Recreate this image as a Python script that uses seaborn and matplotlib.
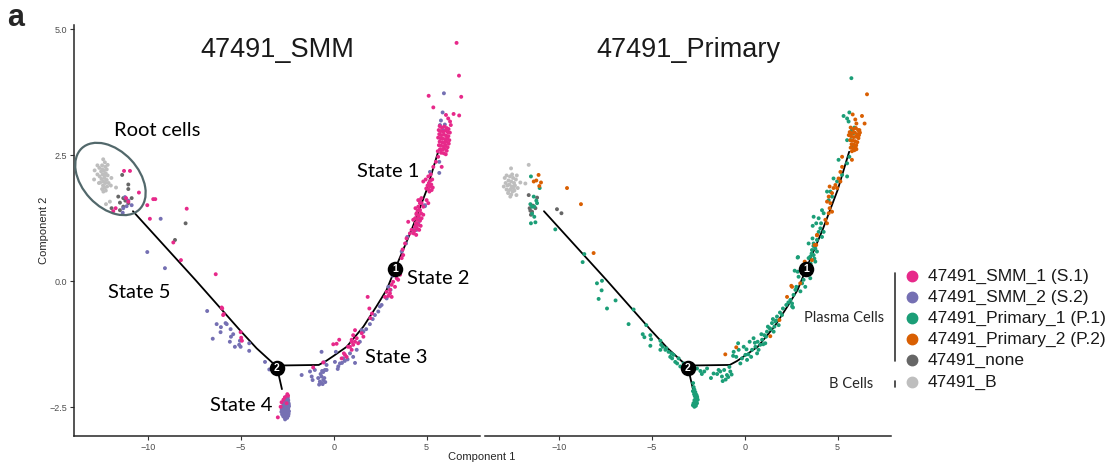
import matplotlib
matplotlib.use("Agg")
import matplotlib.pyplot as plt
import pandas as pd
import seaborn as sns
from matplotlib.lines import Line2D
from matplotlib.patches import Ellipse
from matplotlib.transforms import IdentityTransform

# ---------------------------------------------------------------- data
# trajectory backbone (minimum spanning tree in reduced space)
trunk_x = [-10.79, -7.44, -5.04, -4.14, -3.25, -3.05]
trunk_y = [1.39, 0.03, -0.97, -1.33, -1.63, -1.70]
main_x = [-3.05, -2.70, -0.80, -0.40, 0.00, 0.70, 1.60, 2.30, 2.85, 3.30, 4.19, 5.00, 5.62]
main_y = [-1.70, -1.67, -1.66, -1.58, -1.48, -1.30, -0.90, -0.50, -0.17, 0.24, 1.02, 1.81, 2.57]
stub_x = [-3.05, -2.78]
stub_y = [-1.70, -2.14]
node_x = [3.30, -3.05]
node_y = [0.24, -1.72]
node_labels = ["1", "2"]

# cells of the SMM sample
smm_b = [(-12.39, 2.42), (-12.30, 2.36), (-12.45, 2.30), (-12.60, 2.25), (-12.28, 2.27),
         (-12.20, 2.22), (-12.50, 2.18), (-12.35, 2.19), (-12.25, 2.14), (-12.42, 2.12),
         (-12.15, 2.10), (-12.58, 2.08), (-12.32, 2.05), (-12.48, 2.03), (-12.20, 2.01),
         (-12.38, 1.98), (-12.28, 1.95), (-12.55, 1.96), (-12.10, 1.95), (-12.40, 1.90),
         (-12.30, 1.86), (-12.45, 1.83), (-12.25, 1.80), (-12.38, 1.78), (-12.85, 2.20),
         (-12.88, 2.02), (-12.70, 2.12), (-11.95, 2.05), (-11.98, 1.90), (-11.70, 1.86),
         (-12.24, 1.53), (-12.03, 1.58), (-12.62, 1.95), (-12.15, 2.31), (-12.70, 2.30),
         (-12.33, 2.10), (-12.44, 2.22), (-12.18, 1.88)]
smm_none = [(-11.37, 2.11), (-11.04, 1.92), (-11.04, 1.83), (-11.58, 1.68), (-11.31, 1.65),
            (-10.86, 1.65), (-11.49, 1.56), (-11.31, 1.48), (-11.94, 1.45), (-11.49, 1.41),
            (-11.04, 1.55), (-11.20, 1.60), (-7.96, 1.15), (-8.53, 0.82)]
smm_s2 = [(-11.22, 1.67), (-11.04, 1.60), (-10.86, 1.51), (-11.31, 1.45), (-11.13, 1.49),
          (-11.34, 1.36), (-9.30, 1.24), (-10.02, 0.58), (-9.07, 0.26),
          (-6.80, -0.59), (-6.29, -0.85), (-6.06, -0.91), (-6.08, -1.01), (-5.81, -0.83),
          (-5.54, -0.95), (-6.50, -1.14), (-5.52, -1.10), (-5.58, -1.20), (-5.31, -1.30),
          (-5.04, -1.18), (-5.08, -1.26), (-5.00, -1.30), (-4.54, -1.23), (-4.54, -1.38),
          (-3.69, -1.60), (-3.46, -1.75), (-5.75, -0.85), (-5.40, -1.05),
          (-2.52, -2.28), (-2.46, -2.31), (-2.57, -2.33), (-2.50, -2.35), (-2.44, -2.36),
          (-2.65, -2.38), (-2.58, -2.40), (-2.51, -2.39), (-2.43, -2.41), (-2.71, -2.43),
          (-2.63, -2.45), (-2.56, -2.43), (-2.48, -2.46), (-2.41, -2.44), (-2.77, -2.49),
          (-2.69, -2.48), (-2.61, -2.50), (-2.54, -2.49), (-2.46, -2.51), (-2.40, -2.48),
          (-2.79, -2.54), (-2.72, -2.53), (-2.66, -2.55), (-2.58, -2.54), (-2.51, -2.56),
          (-2.44, -2.53), (-2.40, -2.58), (-2.81, -2.59), (-2.74, -2.58), (-2.67, -2.60),
          (-2.60, -2.59), (-2.53, -2.61), (-2.46, -2.60), (-2.42, -2.63), (-2.77, -2.64),
          (-2.70, -2.63), (-2.63, -2.65), (-2.56, -2.64), (-2.49, -2.66), (-2.44, -2.67),
          (-2.71, -2.68), (-2.64, -2.70), (-2.57, -2.69), (-2.50, -2.71), (-2.61, -2.74),
          (-1.72, -1.86), (-1.27, -1.79), (-1.18, -1.89), (-1.13, -1.96), (-1.01, -1.76),
          (-0.83, -1.92), (-0.74, -1.99), (-0.65, -1.89), (-0.56, -1.96), (-0.59, -2.04),
          (-0.66, -2.02), (-0.70, -1.84), (-0.62, -1.78), (-0.50, -1.92), (-0.45, -2.00),
          (-0.78, -2.05), (-0.65, -1.40), (-0.51, -1.61), (-0.38, -1.66), (-0.47, -1.76),
          (-0.56, -1.80), (-0.38, -1.76), (0.07, -1.60), (0.25, -1.69), (0.34, -1.63),
          (0.22, -1.74), (0.12, -1.40), (0.52, -1.53), (0.45, -1.62), (0.60, -1.58),
          (0.88, -1.43), (1.05, -1.50), (1.24, -1.36), (1.41, -1.20), (1.51, -0.97),
          (1.60, -1.00), (2.22, -0.67), (2.40, -0.60), (2.49, -0.50), (2.58, -0.47),
          (2.85, -0.34), (2.94, -0.11), (3.06, -0.17), (3.17, 0.11), (3.66, 0.59),
          (3.89, 0.75), (3.96, 0.88), (4.28, 1.02), (4.46, 1.02), (4.55, 1.15),
          (4.91, 1.51), (1.75, -0.95), (1.95, -0.85), (2.10, -0.75), (0.75, -1.55),
          (1.15, -1.62), (5.93, 3.73), (5.86, 3.35), (5.77, 3.19), (5.98, 3.11),
          (5.72, 3.10), (5.89, 3.00), (5.68, 2.37), (5.68, 2.15), (5.18, 2.17),
          (4.91, 1.49), (4.42, 1.08), (4.64, 1.22)]
smm_s1 = [(-11.27, 2.19), (-10.95, 2.19), (-10.47, 1.76), (-11.16, 1.65), (-11.04, 1.58),
          (-11.72, 1.45), (-11.85, 1.39), (-10.02, 1.51), (-9.70, 1.63), (-9.59, 1.63),
          (-7.90, 1.44), (-9.88, 1.24), (-8.62, 0.77), (-8.21, 0.42), (-6.34, 0.14),
          (-6.02, -0.52), (-5.94, -0.67), (-5.99, -0.54), (-5.91, -0.65), (-5.00, -1.01),
          (-4.93, -1.18), (-4.97, -1.12),
          (-2.49, -2.24), (-2.62, -2.30), (-2.80, -2.40), (-2.85, -2.49), (-2.53, -2.42),
          (-3.00, -2.70), (-2.45, -2.27), (-2.70, -2.35),
          (-1.10, -1.71), (-0.02, -1.25), (0.30, -1.16), (-0.56, -1.61), (0.61, -1.46),
          (0.88, -1.30), (0.97, -1.16), (1.05, -1.07), (1.15, -0.97),
          (0.16, -1.24), (0.55, -1.43), (0.43, -1.53), (0.70, -1.50), (0.78, -1.30),
          (0.97, -1.36), (1.05, -1.26), (0.97, -1.20), (1.15, -1.20), (1.24, -1.13),
          (1.32, -1.23), (1.51, -1.03), (1.60, -1.10), (1.92, -0.54), (1.83, -0.31),
          (1.97, -0.73), (2.06, -0.64), (2.76, -0.31), (2.85, -0.21), (2.94, -0.29),
          (3.03, -0.17), (3.12, -0.07), (3.20, -0.01), (3.30, -0.11), (3.39, 0.06),
          (3.47, 0.03), (3.57, 0.13), (3.12, -0.31), (3.03, -0.24), (3.42, 0.19),
          (3.66, 0.46), (3.74, 0.52), (4.01, 1.18), (4.19, 1.02), (4.28, 1.22),
          (4.46, 1.35), (4.55, 1.28), (4.64, 1.41), (4.55, 1.48), (4.73, 1.55),
          (4.64, 1.61), (4.82, 1.32), (4.73, 1.25), (4.55, 1.61), (4.46, 1.15),
          (4.10, 0.95), (3.92, 0.85), (3.84, 0.75), (3.71, 0.63),
          (4.40, 1.45), (4.52, 1.40), (4.62, 1.42), (4.45, 1.33), (4.58, 1.30),
          (4.70, 1.35), (4.38, 1.25), (4.50, 1.22), (4.64, 1.20), (4.42, 1.15),
          (4.55, 1.12), (4.68, 1.10), (4.48, 1.05), (4.35, 1.00), (4.60, 1.02),
          (4.37, 1.08), (4.30, 0.95), (4.44, 0.92),
          (5.09, 2.08), (4.82, 1.98), (4.95, 2.02), (5.18, 1.88), (5.27, 1.81),
          (5.12, 1.95), (5.22, 2.12), (5.30, 2.02), (5.05, 1.90), (5.15, 1.78),
          (5.25, 1.92), (4.98, 1.84), (5.33, 1.86), (5.20, 2.00), (5.10, 1.82),
          (5.00, 1.61), (5.09, 1.55), (4.64, 1.55), (4.82, 1.48), (4.72, 1.65),
          (5.70, 3.08), (5.82, 3.05), (5.95, 3.07), (6.08, 3.04), (6.18, 3.02),
          (5.65, 3.00), (5.76, 2.98), (5.90, 2.97), (6.02, 2.99), (6.14, 2.96),
          (6.25, 2.95), (5.68, 2.92), (5.80, 2.90), (5.93, 2.91), (6.05, 2.89),
          (6.17, 2.88), (5.62, 2.85), (5.74, 2.84), (5.86, 2.83), (5.99, 2.82),
          (6.11, 2.84), (6.22, 2.80), (5.70, 2.77), (5.83, 2.76), (5.95, 2.75),
          (6.07, 2.77), (6.19, 2.73), (5.66, 2.70), (5.78, 2.69), (5.90, 2.68),
          (6.02, 2.70), (6.13, 2.66), (5.72, 2.62), (5.85, 2.61), (5.97, 2.63),
          (6.08, 2.59), (5.78, 2.55), (5.92, 2.54), (6.03, 2.52), (5.62, 2.47),
          (5.50, 2.37), (5.81, 2.27), (5.36, 2.27), (6.30, 3.10), (5.60, 2.58),
          (6.61, 4.73), (6.74, 4.08), (6.86, 3.66), (5.11, 3.68), (5.36, 3.45),
          (6.75, 3.29), (6.45, 3.32), (6.04, 3.30), (6.16, 3.23), (6.26, 3.17)]

# cells of the Primary sample
pri_b = [(-12.56, 2.24), (-11.61, 2.31), (-12.06, 1.96), (-11.79, 1.94), (-12.60, 1.68),
         (-12.27, 1.71), (-12.90, 2.05), (-12.80, 2.10), (-12.70, 2.00), (-12.62, 2.08),
         (-12.55, 1.98), (-12.45, 2.05), (-12.40, 1.95), (-12.85, 1.95), (-12.75, 1.90),
         (-12.65, 1.92), (-12.52, 1.88), (-12.42, 1.85), (-12.35, 1.90), (-12.95, 1.88),
         (-12.80, 1.82), (-12.68, 1.80), (-12.58, 1.83), (-12.48, 1.78), (-12.38, 1.80),
         (-12.72, 1.75), (-12.55, 1.72), (-12.30, 2.02), (-12.25, 2.10), (-12.50, 2.12),
         (-12.20, 1.85)]
pri_none = [(-11.61, 1.71), (-11.16, 1.66), (-11.56, 1.45), (-11.43, 1.38), (-11.25, 1.45),
            (-11.49, 1.32), (-10.09, 1.43), (-9.85, 1.35), (-11.52, 1.40), (-11.38, 1.50)]
pri_p1 = [(-11.49, 2.08), (-11.02, 1.85), (-11.34, 1.68), (-11.52, 1.53), (-11.43, 1.48),
          (-11.16, 1.55), (-11.31, 1.48), (-11.43, 1.34), (-11.31, 1.28), (-11.49, 1.15),
          (-11.25, 1.17), (-10.18, 1.03), (-11.20, 1.60),
          (-8.62, 0.54), (-8.71, 0.38), (-7.94, -0.04), (-7.67, 0.01), (-7.69, -0.18),
          (-7.85, -0.35), (-7.40, -0.54), (-6.94, -0.38), (-6.24, -0.85), (-5.97, -0.56),
          (-5.48, -1.05), (-5.39, -1.11), (-5.07, -1.07), (-5.03, -1.15), (-5.07, -1.28),
          (-5.29, -0.87), (-4.53, -1.18), (-4.49, -1.26), (-4.53, -1.36), (-4.26, -1.36),
          (-4.21, -1.33), (-4.09, -1.40), (-3.94, -1.43), (-3.82, -1.46), (-3.90, -1.53),
          (-3.73, -1.60), (-3.63, -1.63), (-3.55, -1.53), (-3.46, -1.69), (-3.28, -1.63),
          (-4.40, -1.30), (-4.00, -1.50),
          (-2.56, -1.73), (-2.38, -1.78), (-2.17, -1.79), (-2.02, -1.73), (-1.81, -1.92),
          (-1.67, -1.83), (-1.48, -1.84), (-1.31, -1.79), (-1.22, -1.89), (-0.95, -1.86),
          (-0.77, -1.79), (-1.10, -1.76), (-1.02, -1.95), (-1.18, -1.98), (-0.88, -1.90),
          (-0.70, -1.85), (-0.82, -1.70), (-1.40, -1.76), (-2.30, -1.84), (-2.80, -1.80),
          (-0.62, -1.48), (-0.59, -1.40), (-0.35, -1.23), (-0.32, -1.36), (-0.23, -1.63),
          (-0.14, -1.53), (-0.05, -1.30), (0.04, -1.46), (0.13, -1.56), (0.27, -1.20),
          (0.40, -1.36), (0.48, -1.13), (0.58, -1.30), (0.67, -1.43), (0.75, -1.36),
          (0.84, -1.26), (0.94, -1.16), (1.06, -1.07), (1.11, -1.23), (1.20, -1.00),
          (1.34, -0.93), (1.47, -0.83), (1.56, -1.00), (1.65, -0.80), (1.74, -0.70),
          (1.83, -0.87), (2.01, -0.67), (2.06, -0.54), (2.24, -0.47), (2.46, -0.37),
          (2.55, -0.50), (2.63, -0.27), (2.73, -0.17), (2.85, 0.19), (2.87, 0.48),
          (0.20, -1.45), (0.55, -1.22), (0.90, -1.05), (1.00, -1.25), (1.25, -0.90),
          (1.40, -0.95), (1.52, -0.75), (1.60, -0.90), (-0.45, -1.50), (0.10, -1.35),
          (0.35, -1.50), (0.70, -1.20), (1.15, -1.10), (1.70, -0.78), (1.90, -0.62),
          (2.35, -0.42), (2.55, -0.44), (2.60, -0.52),
          (-2.77, -2.02), (-2.74, -2.10), (-2.70, -2.15), (-2.78, -2.18), (-2.65, -2.20),
          (-2.72, -2.24), (-2.60, -2.25), (-2.68, -2.28), (-2.55, -2.30), (-2.63, -2.33),
          (-2.52, -2.35), (-2.60, -2.38), (-2.70, -2.36), (-2.56, -2.42), (-2.66, -2.44),
          (-2.75, -2.42), (-2.62, -2.47), (-2.70, -2.49), (-2.78, -2.46), (-2.68, -2.40),
          (-2.58, -2.27),
          (5.74, 4.03), (5.32, 3.28), (5.63, 3.35), (5.51, 3.23), (5.59, 3.17),
          (5.77, 3.00), (5.86, 2.94), (5.72, 2.80), (5.51, 2.80), (5.63, 2.47),
          (5.05, 2.41), (5.51, 2.34), (5.24, 2.11), (5.51, 2.08), (4.78, 2.04),
          (4.97, 1.98), (4.43, 1.78), (4.61, 1.78), (4.70, 1.68), (4.52, 1.61),
          (4.16, 1.41), (4.25, 1.35), (3.71, 1.28), (3.98, 1.25), (3.85, 1.15),
          (4.11, 1.15), (3.66, 1.10), (4.07, 1.05), (3.98, 0.98), (4.25, 0.98),
          (4.16, 0.88), (3.89, 0.82), (3.71, 0.75), (3.44, 0.75), (3.80, 0.65),
          (3.62, 0.62), (3.89, 0.59), (3.71, 0.52), (3.53, 0.49), (3.44, 0.46),
          (3.80, 0.39), (2.85, 0.47), (2.69, 0.21), (2.90, 0.09), (3.17, 0.03),
          (3.53, 0.06), (3.09, -0.04), (3.26, -0.11), (2.78, -0.11), (3.70, 0.70),
          (3.60, 0.55), (3.75, 0.45), (3.55, 0.35), (3.40, 0.30), (3.65, 0.85),
          (3.30, 0.15), (3.00, -0.20), (5.80, 2.70), (5.68, 2.90), (5.90, 3.05)]
pri_p2 = [(-11.08, 2.11), (-11.34, 1.98), (-11.20, 2.00), (-10.95, 1.96), (-11.04, 1.89),
          (-9.55, 1.85), (-8.80, 1.53), (-8.12, 0.56),
          (-1.04, -1.45), (-0.45, -1.31), (1.38, -1.09), (1.87, -0.77), (2.28, -0.31),
          (2.51, -0.09), (2.55, -0.11), (2.99, -0.04), (3.23, 0.39), (3.76, 0.72),
          (3.89, 0.91),
          (6.58, 3.71), (5.81, 3.31), (6.31, 3.28), (6.45, 3.13), (5.95, 3.21),
          (6.01, 3.13), (6.17, 3.00), (5.77, 2.58), (6.01, 2.62), (5.77, 2.41),
          (5.24, 2.47), (5.24, 2.27), (5.15, 2.17), (5.05, 2.04), (5.15, 1.98),
          (4.88, 1.91), (4.97, 1.85), (4.78, 1.85), (4.57, 1.88), (4.70, 1.75),
          (4.52, 1.68), (4.43, 1.58), (4.61, 1.55), (4.57, 1.45), (4.70, 1.38),
          (4.52, 1.35), (4.43, 1.15), (4.34, 1.22), (3.89, 0.92), (3.85, 0.72),
          (3.62, 0.42),
          (5.70, 3.05), (5.85, 3.02), (5.98, 3.04), (6.10, 3.00), (5.65, 2.96),
          (5.78, 2.94), (5.92, 2.95), (6.05, 2.92), (6.15, 2.90), (5.72, 2.88),
          (5.86, 2.86), (5.99, 2.87), (6.12, 2.84), (5.68, 2.80), (5.81, 2.79),
          (5.94, 2.78), (6.06, 2.76), (5.75, 2.72), (5.88, 2.71), (6.00, 2.70),
          (5.70, 2.65), (5.83, 2.64), (5.96, 2.66), (5.90, 2.60), (6.20, 2.95),
          (5.60, 2.90)]

group_names = ["47491_SMM_1 (S.1)", "47491_SMM_2 (S.2)", "47491_Primary_1 (P.1)",
               "47491_Primary_2 (P.2)", "47491_none", "47491_B"]
group_colors = ["#E7298A", "#7570B3", "#1B9E77", "#D95F02", "#666666", "#BEBEBE"]

panel_titles = ["47491_SMM", "47491_Primary"]
state_labels = ["Root cells", "State 1", "State 2", "State 3", "State 4", "State 5"]
state_x = [-9.50, 2.92, 5.61, 3.35, -4.98, -10.47]
state_y = [3.00, 2.17, 0.05, -1.52, -2.47, -0.23]
x_ticks = [-10, -5, 0, 5]
y_ticks = [-2.5, 0.0, 2.5, 5.0]


def to_frame(groups):
    rows = []
    for name, pts in groups:
        for x, y in pts:
            rows.append({"x": x, "y": y, "group": name})
    return pd.DataFrame(rows)


smm_df = to_frame([("47491_B", smm_b), ("47491_none", smm_none),
                   ("47491_SMM_2 (S.2)", smm_s2), ("47491_SMM_1 (S.1)", smm_s1)])
pri_df = to_frame([("47491_B", pri_b), ("47491_none", pri_none),
                   ("47491_Primary_1 (P.1)", pri_p1), ("47491_Primary_2 (P.2)", pri_p2)])
palette = dict(zip(group_names, group_colors))

# ---------------------------------------------------------------- figure
sns.set_theme(style="ticks")
plt.rcParams["font.family"] = ["Liberation Sans", "DejaVu Sans"]

W, H = 1110, 470
fig = plt.figure(figsize=(W / 100, H / 100), dpi=100)


def box(l, t, r, b):
    return [l / W, 1 - b / H, (r - l) / W, (b - t) / H]


ax1 = fig.add_axes(box(74, 25, 480, 436))
ax2 = fig.add_axes(box(485, 25, 891, 436))

for ax, df, title in [(ax1, smm_df, panel_titles[0]), (ax2, pri_df, panel_titles[1])]:
    for xs, ys in [(trunk_x, trunk_y), (main_x, main_y), (stub_x, stub_y)]:
        sns.lineplot(x=xs, y=ys, sort=False, estimator=None, color="black",
                     lw=1.3, ax=ax, zorder=2)
    sns.scatterplot(data=df, x="x", y="y", hue="group", palette=palette, s=8,
                    linewidth=0, legend=False, ax=ax, zorder=3)
    sns.scatterplot(x=node_x, y=node_y, s=125, color="black", linewidth=0,
                    legend=False, ax=ax, zorder=5)
    for nx, ny, lab in zip(node_x, node_y, node_labels):
        ax.text(nx, ny, lab, color="white", fontsize=7.5, fontweight="bold",
                ha="center", va="center", zorder=6)
    ax.set_xlim(-13.96, 7.87)
    ax.set_ylim(-3.07, 5.085)
    ax.set_xticks(x_ticks)
    ax.set_xticklabels([f"{t}".replace("-", "\u2212") for t in x_ticks])
    ax.set_xlabel("")
    ax.set_ylabel("")
    ax.text(0.5, 0.922, title, transform=ax.transAxes, ha="center",
            va="baseline", fontsize=19.5, color="#1a1a1a")
    ax.tick_params(axis="both", labelsize=6.5, labelcolor="#4D4D4D", length=3,
                   width=0.8, color="#333333", pad=2)
    for side in ["top", "right"]:
        ax.spines[side].set_visible(False)
    ax.spines["bottom"].set_linewidth(1.1)
    ax.spines["left"].set_linewidth(1.1)

ax1.set_yticks(y_ticks)
ax1.set_yticklabels([f"{t:.1f}".replace("-", "\u2212") for t in y_ticks])
ax2.spines["left"].set_visible(False)
ax2.set_yticks([])

for lab, sx, sy in zip(state_labels, state_x, state_y):
    ax1.text(sx, sy, lab, ha="center", va="center", fontsize=14.5,
             family=["Lato", "DejaVu Sans"], color="black", zorder=7)

# ring around the root cells
fig.canvas.draw()
cx, cy = ax1.transData.transform((-12.0, 2.03))
ax1.add_patch(Ellipse((cx, cy), 84, 56, angle=-47, transform=IdentityTransform(),
                      fill=False, ec="#52686b", lw=1.6, zorder=4, clip_on=False))

# axis titles
fig.text(482 / W, 1 - 457 / H, "Component 1", ha="center", va="center", fontsize=8)
fig.text(44 / W, 1 - 230 / H, "Component 2", ha="center", va="center",
         fontsize=8, rotation=90)
fig.text(7 / W, 1 - 26 / H, "a", ha="left", va="baseline", fontsize=22,
         fontweight="bold")

# legend with cell-type brackets
row_y = [276, 297, 318, 339, 360, 382]
for name, col, ry in zip(group_names, group_colors, row_y):
    fig.add_artist(Line2D([912 / W], [1 - ry / H], marker="o", ls="", ms=7.5,
                          color=col, transform=fig.transFigure))
    fig.text(928 / W, 1 - ry / H, name, ha="left", va="center", fontsize=12.5,
             color="#1a1a1a")
fig.add_artist(Line2D([895 / W, 895 / W], [1 - 273 / H, 1 - 361 / H], color="#333333",
                      lw=1.2, transform=fig.transFigure))
fig.add_artist(Line2D([895 / W, 895 / W], [1 - 381 / H, 1 - 387 / H], color="#333333",
                      lw=1.2, transform=fig.transFigure))
fig.text(884 / W, 1 - 318 / H, "Plasma Cells", ha="right", va="center", fontsize=10.5,
         family=["Lato", "DejaVu Sans"])
fig.text(873 / W, 1 - 384 / H, "B Cells", ha="right", va="center", fontsize=10.5,
         family=["Lato", "DejaVu Sans"])

fig.savefig("out.png", dpi=100)
